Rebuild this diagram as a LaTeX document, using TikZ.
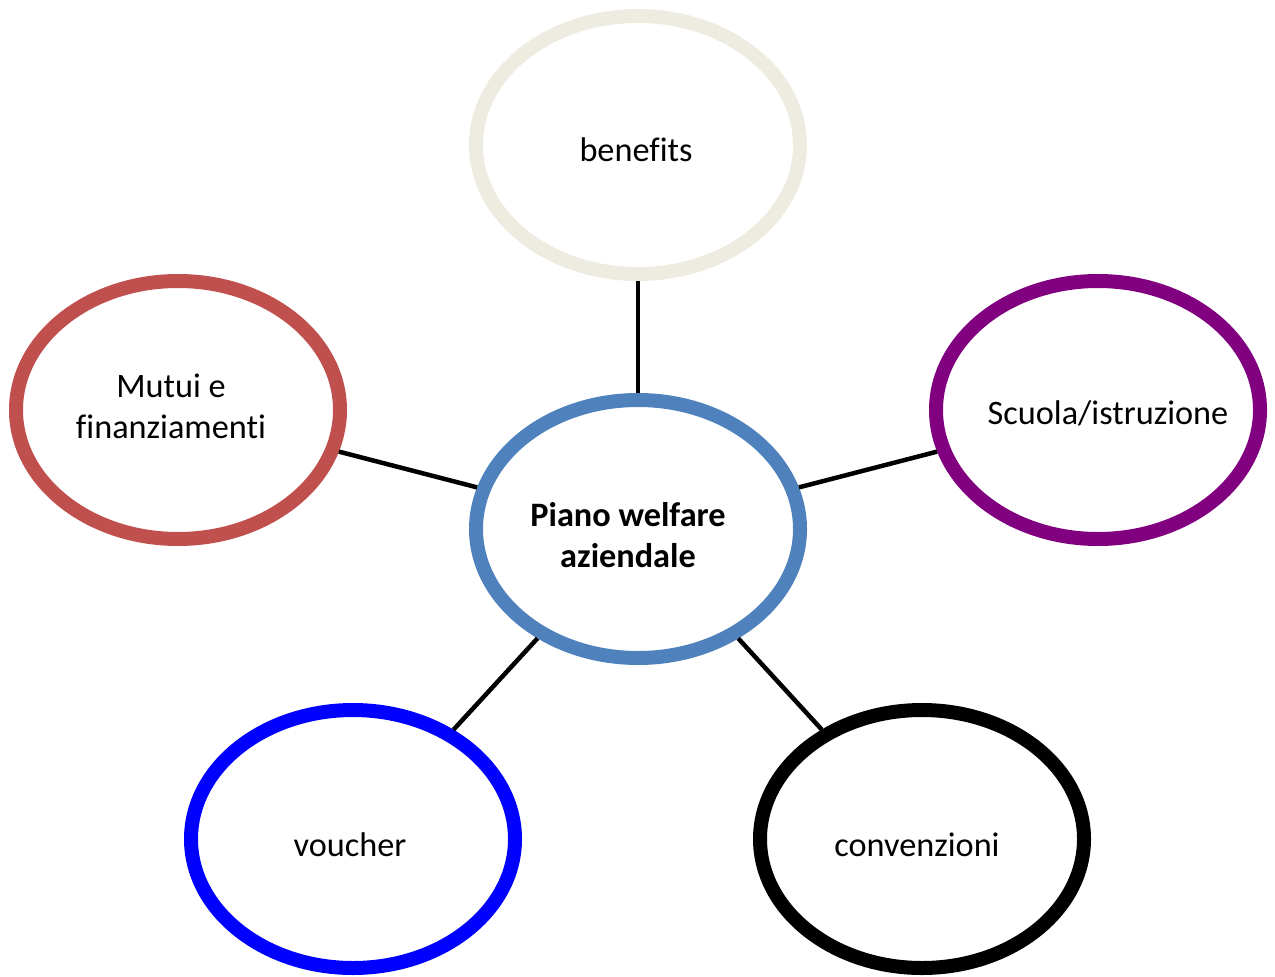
\documentclass[tikz,border=0pt]{standalone}
\usepackage{fontspec}
\setmainfont[Ligatures=NoCommon]{Carlito}
\usepackage{tikz}
\usetikzlibrary{positioning,shapes.geometric}
\definecolor{beige}{HTML}{EEECE1}
\definecolor{redbrown}{HTML}{C0504D}
\definecolor{violet}{HTML}{800080}
\definecolor{steel}{HTML}{4F81BD}

\begin{document}
\begin{tikzpicture}[
    bubble/.style={draw=#1, ellipse, line width=0.28cm, minimum width=6.48cm, minimum height=5.16cm, inner sep=0pt},
    txt/.style={align=center, font=\fontsize{19.5}{23.5}\selectfont},
    link/.style={line width=0.09cm, black}
]
\useasboundingbox (0,0) rectangle (25.5,-19.52);

\node[bubble=steel] (plan) at (12.76,-10.58) {};
\node[bubble=beige] (benefits) at (12.76,-2.90) {};
\node[bubble=redbrown] (mutui) at (3.56,-8.20) {};
\node[bubble=violet] (scuola) at (21.96,-8.20) {};
\node[bubble=blue] (voucher) at (7.06,-16.78) {};
\node[bubble=black] (conv) at (18.44,-16.78) {};

\node[txt, font=\fontsize{19.5}{23.5}\selectfont\bfseries] (planT) at (12.56,-10.70) {Piano welfare\\aziendale};
\node[txt] (benefitsT) at (12.72,-3.00) {benefits};
\node[txt] (mutuiT) at (3.42,-8.12) {Mutui e\\finanziamenti};
\node[txt] (scuolaT) at (22.16,-8.26) {Scuola/istruzione};
\node[txt] (voucherT) at (7.00,-16.90) {voucher};
\node[txt] (convT) at (18.34,-16.90) {convenzioni};

\draw[link] (benefits) -- (plan);
\draw[link] (mutui) -- (plan);
\draw[link] (scuola) -- (plan);
\draw[link] (voucher) -- (plan);
\draw[link] (conv) -- (plan);

\end{tikzpicture}
\end{document}
